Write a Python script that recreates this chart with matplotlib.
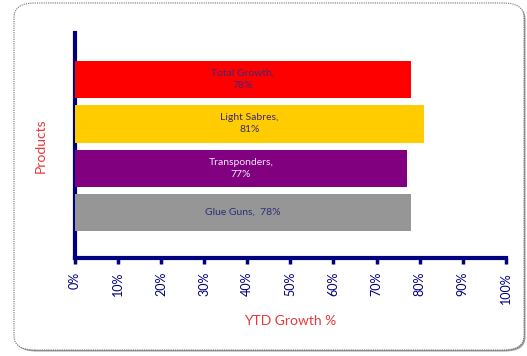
import matplotlib
matplotlib.use("Agg")
import matplotlib.pyplot as plt
from matplotlib.patches import FancyBboxPatch

# YTD growth per product line (top to bottom)
products = ["Total Growth", "Light Sabres", "Transponders", "Glue Guns"]
growth = [78, 81, 77, 78]
bar_colors = ["#FF0000", "#FFCC00", "#800080", "#969696"]
label_colors = ["#3B2A78", "#3B2A78", "#F0E8F8", "#2E2E7A"]
label_text = ["Total Growth,\n78%", "Light Sabres,\n81%", "Transponders,\n77%", "Glue Guns,  78%"]
ticks = list(range(0, 101, 10))
tick_labels = [f"{t}%" for t in ticks]

NAVY = "#000080"
plt.rcParams["font.family"] = ["Lato", "DejaVu Sans"]

fig = plt.figure(figsize=(5.27, 3.56), dpi=100)

# rounded dotted frame; a faint edge peeks out at the lower right
W, H = 527.0, 356.0
x0, y0, x1, y1 = 14 / W, 6 / H, 524 / W, 353 / H
shadow = FancyBboxPatch((x0 + 1.5 / W, y0 - 1.5 / H), x1 - x0, y1 - y0,
                        boxstyle="round,pad=0,rounding_size=0.04",
                        transform=fig.transFigure, facecolor="#9a9a9a", edgecolor="none",
                        zorder=0)
frame = FancyBboxPatch((x0, y0), x1 - x0, y1 - y0, boxstyle="round,pad=0,rounding_size=0.04",
                       transform=fig.transFigure, facecolor="white", edgecolor="#707070",
                       linestyle=(0, (1, 1)), linewidth=0.8, zorder=1)
fig.patches.extend([shadow, frame])

ax = fig.add_axes([0.142, 0.275, 0.818, 0.632])
ax.set_facecolor("none")
ax.set_zorder(2)

pos = [3, 2, 1, 0]
ax.barh(pos, growth, height=0.84, color=bar_colors, zorder=3)
for p, g, txt, c in zip(pos, growth, label_text, label_colors):
    ax.text(g / 2, p, txt, ha="center", va="center", fontsize=7.5, color=c, zorder=4,
            linespacing=1.45)

ax.set_xlim(0, 100)
ax.set_ylim(-1.03, 4.05)
ax.set_xticks(ticks)
ax.set_xticklabels(tick_labels, rotation=90, color=NAVY, fontsize=9)
ax.set_yticks([])
ax.tick_params(axis="x", direction="out", length=4, width=2.5, color=NAVY, pad=6)

for side in ("top", "right"):
    ax.spines[side].set_visible(False)
for side in ("left", "bottom"):
    ax.spines[side].set_color(NAVY)
    ax.spines[side].set_linewidth(3)

ax.set_xlabel("YTD Growth %", color="#E8383D", fontsize=10, labelpad=8)
ax.set_ylabel("Products", color="#E8383D", fontsize=10, labelpad=20)

fig.savefig("out.png", dpi=100)
